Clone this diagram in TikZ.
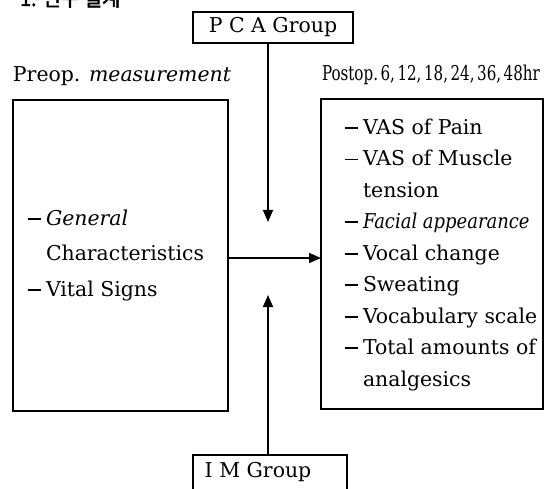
\documentclass[tikz,border=0pt]{standalone}
\usepackage{fontspec}
\usepackage{graphicx}
\setmainfont{DejaVu Serif}
\newfontfamily\kofont[FakeBold=2.5]{Noto Sans CJK KR}
\usetikzlibrary{arrows.meta}
\newcommand{\itm}{\makebox[18bp][l]{\rule[5.5bp]{13bp}{1.6bp}}}
\newcommand{\cont}{\hspace*{18bp}}
\begin{document}
\begin{tikzpicture}[x=1bp,y=-1bp,inner sep=0pt,outer sep=0pt,line width=1.6bp,
sysbox/.style={draw,rectangle,inner sep=0pt},
arr/.style={-{Triangle[length=12bp,width=10bp]}},
lbl/.style={font=\fontsize{20.5}{24}\selectfont},
lst/.style={align=left,anchor=base west}]
\useasboundingbox (0,0) rectangle (548,489);
\draw (20,6) node[anchor=base west,font=\kofont\fontsize{20}{24}\selectfont] (title) {1. 연구 설계};
\draw (273,27.5) node[sysbox,lbl,minimum width=160bp,minimum height=31bp] (pca) {P C A Group};
\draw (270,477.5) node[sysbox,minimum width=154bp,minimum height=45bp] (im) {};
\draw (258,472) node[lbl] (imlbl) {I M Group};
\draw (120.5,255.5) node[sysbox,minimum width=215bp,minimum height=311bp] (preop) {};
\draw (432,254) node[sysbox,minimum width=222bp,minimum height=310bp] (postop) {};
\draw (preop.north west) ++(0,-14) node[lbl,anchor=south west] (preoplbl) {Preop. \textit{measurement}};
\draw (postop.north west) ++(1,-14) node[lbl,anchor=south west] (postoplbl) {\scalebox{0.74}[1]{Postop.\,6,\,12,\,18,\,24,\,36,\,48hr}};
% lists (base = last line)
\draw (28,296) node[lst,font=\fontsize{20.5}{35.5}\selectfont] (preoplst) {\itm\textit{General}\\ \cont Characteristics\\ \itm Vital Signs};
\draw (345,386) node[lst,font=\fontsize{20.5}{31.6}\selectfont] (postoplst) {\itm VAS of Pain\\ \itm VAS of Muscle\\ \cont tension\\ \itm\scalebox{0.88}[1]{\textit{Facial appearance}}\\ \itm Vocal change\\ \itm Sweating\\ \itm Vocabulary scale\\ \itm Total amounts of\\ \cont analgesics};
% arrows
\coordinate (dn) at (268,222);
\coordinate (up) at (268,295);
\coordinate (mid) at (268,258);
\draw[arr] (pca.south -| dn) -- (dn);
\draw[arr] (im.north -| up) -- (up);
\draw[arr] (preop.east |- mid) -- (postop.west |- mid);
\end{tikzpicture}
\end{document}
